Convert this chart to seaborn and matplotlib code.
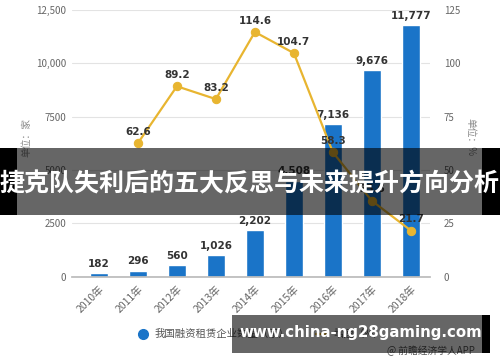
import numpy as np
import pandas as pd
import matplotlib.pyplot as plt
import seaborn as sns
from matplotlib.lines import Line2D
from matplotlib.patches import Rectangle

# DATA

years = ["2010年", "2011年", "2012年", "2013年", "2014年",
         "2015年", "2016年", "2017年", "2018年"]
counts = [182, 296, 560, 1026, 2202, 4508, 7136, 9676, 11777]
growth_years = years[1:]
growth = [62.6, 89.2, 83.2, 114.6, 104.7, 58.3, 35.6, 21.7]

left_ticks = [0, 2500, 5000, 7500, 10000, 12500]
left_labels = ["0", "2500", "5000", "7500", "10,000", "12,500"]
right_ticks = [0, 25, 50, 75, 100, 125]

bar_name = "我国融资租赁企业数量（家）"
line_name = "增速（%）"
banner_title = "捷克队失利后的五大反思与未来提升方向分析"
banner_url = "www.china-ng28gaming.com"
source = "@ 前瞻经济学人APP"

BLUE = "#1a74c8"
GOLD = "#e8b530"
GRAY = "#666666"

# STYLE

sns.set_theme(style="white")
plt.rcParams['font.family'] = ['Noto Sans CJK SC', 'DejaVu Sans']

fig = plt.figure(figsize=(5, 3.62), dpi=100)
ax = fig.add_axes([0.144, 0.235, 0.716, 0.738])

df = pd.DataFrame({"year": years, "count": counts})
sns.barplot(data=df, x="year", y="count", color=BLUE, width=0.46,
            saturation=1, ax=ax)

ax.set_xlim(-0.69, 8.49)
ax.set_ylim(0, 12500)
ax.set_yticks(left_ticks)
ax.set_yticklabels(left_labels, fontsize=7, color=GRAY)
ax.yaxis.grid(True, color="#e3e3e3", linewidth=0.8)
ax.set_axisbelow(True)
ax.set_xlabel("")
ax.set_ylabel("")
for s in ["top", "right", "left"]:
    ax.spines[s].set_visible(False)
ax.spines["bottom"].set_color("#bbbbbb")
ax.tick_params(axis="x", length=4, color="#bbbbbb", pad=1)
ax.tick_params(axis="y", length=0, pad=4)
plt.setp(ax.get_xticklabels(), rotation=45, ha="right",
         rotation_mode="anchor", fontsize=7.5, color=GRAY)

for i, v in enumerate(counts):
    ax.text(i, v + 200, f"{v:,}", ha="center", va="bottom",
            fontsize=7.5, fontweight="bold", color="#333333",
            family="DejaVu Sans")

# GROWTH LINE

ax2 = ax.twinx()
gx = np.arange(1, len(years))
sns.lineplot(x=gx, y=growth, color=GOLD, linewidth=1.6, marker="o",
             markersize=6, markeredgecolor=GOLD, ax=ax2)
ax2.set_ylim(0, 125)
ax2.set_yticks(right_ticks)
ax2.tick_params(axis="y", length=0, pad=10, labelsize=7, labelcolor=GRAY)
for s in ["top", "right", "left", "bottom"]:
    ax2.spines[s].set_visible(False)
ax2.grid(False)

for x, v in zip(gx, growth):
    ax2.text(x, v + 3, f"{v}", ha="center", va="bottom",
             fontsize=7.5, fontweight="bold", color="#333333",
             family="DejaVu Sans")

# AXIS UNITS

fig.text(0.052, 0.62, "单位：家", rotation=90, fontsize=7, color="#888888",
         ha="center", va="center")
fig.text(0.94, 0.62, "单位：%", rotation=270, fontsize=7, color="#888888",
         ha="center", va="center")

# LEGEND

handles = [
    Line2D([], [], color=BLUE, marker="o", linestyle="", markersize=7),
    Line2D([], [], color=GOLD, linewidth=1.6),
]
fig.legend(handles, [bar_name, line_name], loc="center left",
           bbox_to_anchor=(0.255, 0.077), ncol=2, frameon=False,
           fontsize=7.5, handlelength=1.2, handletextpad=0.5,
           columnspacing=2.5, labelcolor="#555555")

fig.text(0.95, 0.03, source, ha="right", va="center", fontsize=7,
         color="#555555")

# OVERLAY BANNERS

W, H = 500, 362
def px_rect(x0, y0, x1, y1, color, alpha):
    fig.patches.append(Rectangle((x0 / W, 1 - y1 / H), (x1 - x0) / W,
                                 (y1 - y0) / H, transform=fig.transFigure,
                                 facecolor=color, alpha=alpha,
                                 edgecolor="none", zorder=10))

px_rect(17, 148, 482, 215, "black", 0.6)
px_rect(0, 148, 17, 215, "black", 1.0)
px_rect(482, 148, 500, 215, "black", 1.0)
px_rect(232, 315, 482, 353, "black", 0.6)
px_rect(482, 315, 490, 353, "black", 1.0)

fig.text(0.5, 1 - 184 / H, banner_title, ha="center", va="center",
         fontsize=18, fontweight="bold", color="white", zorder=11)
fig.text(0.722, 1 - 333 / H, banner_url, ha="center", va="center",
         fontsize=10.8, fontweight="bold", color="white", zorder=11,
         family="DejaVu Sans")

plt.savefig("out.png", dpi=100)
plt.close()
